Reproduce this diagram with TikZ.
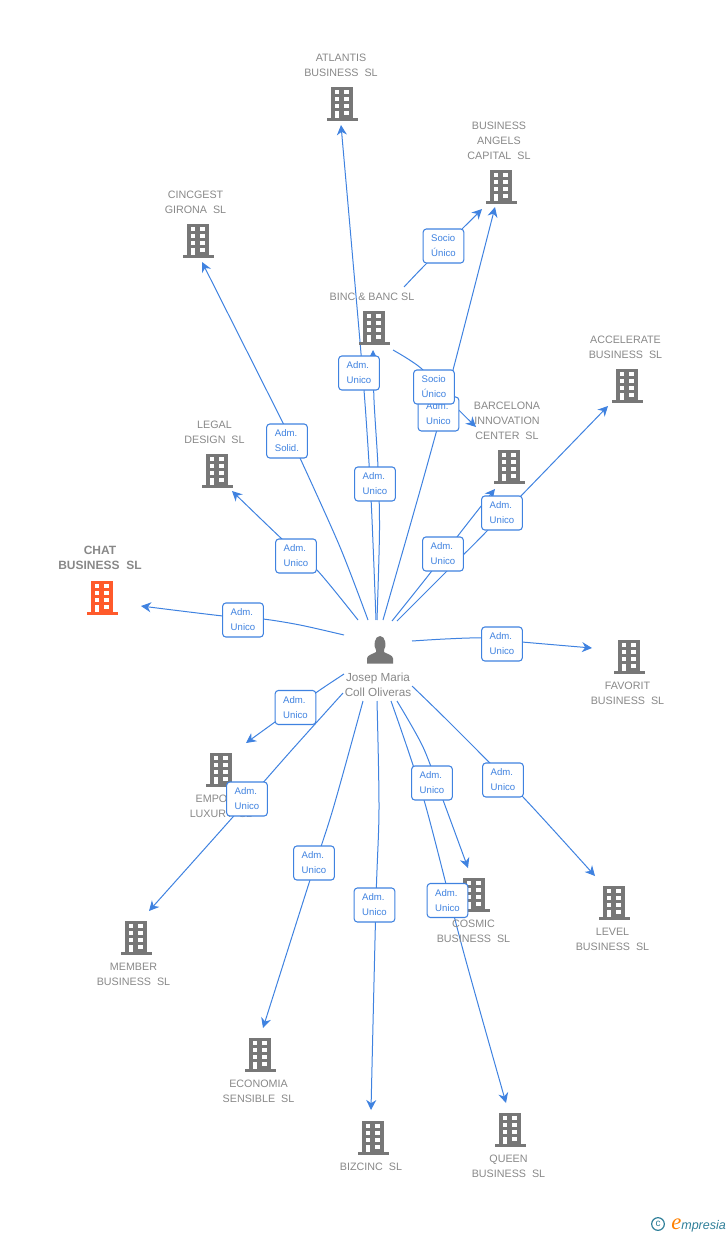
\documentclass[tikz,border=0pt]{standalone}
\usepackage{fontspec}
\setmainfont{Liberation Sans}
\newfontfamily\logofont{Liberation Serif}
\usetikzlibrary{arrows.meta,backgrounds}
\definecolor{bgrey}{HTML}{777777}
\definecolor{tgrey}{HTML}{888888}
\definecolor{eblue}{HTML}{3F82E0}
\definecolor{borange}{HTML}{FF5A2B}
\definecolor{lteal}{HTML}{2F7F99}
\tikzset{
  lab/.style={font=\fontsize{8.05pt}{11.25pt}\selectfont,text=tgrey,align=center,inner sep=0pt,yshift=-0.75pt},
  chatlab/.style={lab,font=\fontsize{9pt}{11.25pt}\selectfont\bfseries,yshift=0pt},
  rel/.style={draw=eblue,line width=0.8pt,rounded corners=2.4pt,fill=white,text=eblue,
    font=\fontsize{7.2pt}{11.25pt}\selectfont,align=left,minimum width=30.5pt,minimum height=25.5pt,inner sep=0pt},
  edge/.style={draw=eblue,line width=0.75pt,-{Stealth[length=7.5pt,width=7.5pt,inset=2.4pt]}},
  pics/bld/.style={code={
    \fill[#1] (-11,-16.5) rectangle (11,15.5);
    \fill[#1] (-15.5,15) rectangle (15.5,17.5);
    \foreach \yy in {-13,-6,1}{
      \fill[white] (-7.5,\yy) rectangle (-3,\yy+4.4);
      \fill[white] (2.3,\yy) rectangle (6.8,\yy+4.4);
    }
    \fill[white] (-7.5,8) rectangle (-3,15.3);
    \fill[white] (2.3,8) rectangle (6.8,12);
  }}
}
\newcommand{\bldat}[4]{\pic at (#2,#3) {bld=#4}; \coordinate (#1) at (#2,#3);}
\newcommand{\conn}[2]{\draw[edge] plot[smooth,tension=0.5] coordinates {#1 #2};}
\begin{document}
\begin{tikzpicture}[x=0.75pt,y=-0.75pt]
\useasboundingbox (0,0) rectangle (728,1235);
% buildings
\bldat{bAtl}{342}{103}{bgrey}
\bldat{bAng}{501}{186}{bgrey}
\bldat{bCin}{198}{240}{bgrey}
\bldat{bBin}{374}{327}{bgrey}
\bldat{bAcc}{627}{385}{bgrey}
\bldat{bBar}{509}{466}{bgrey}
\bldat{bLeg}{217}{470}{bgrey}
\bldat{bCha}{102}{597}{borange}
\bldat{bFav}{629}{656}{bgrey}
\bldat{bEmp}{221}{769}{bgrey}
\bldat{bCos}{474}{894}{bgrey}
\bldat{bLev}{614}{902}{bgrey}
\bldat{bMem}{136}{937}{bgrey}
\bldat{bEco}{260}{1054}{bgrey}
\bldat{bBiz}{373}{1137}{bgrey}
\bldat{bQue}{510}{1129}{bgrey}
% building labels
\node[lab] (tAtl) at (341,64.5) {ATLANTIS\\BUSINESS\ \ SL};
\node[lab] (tAng) at (499,140) {BUSINESS\\ANGELS\\CAPITAL\ \ SL};
\node[lab] (tCin) at (195.5,201.5) {CINCGEST\\GIRONA\ \ SL};
\node[lab] (tBin) at (372,296) {BINC \& BANC SL};
\node[lab] (tAcc) at (625.5,346.5) {ACCELERATE\\BUSINESS\ \ SL};
\node[lab] (tBar) at (507,420) {BARCELONA\\INNOVATION\\CENTER\ \ SL};
\node[lab] (tLeg) at (214.5,431.5) {LEGAL\\DESIGN\ \ SL};
\node[chatlab] (tCha) at (100,557) {CHAT\\BUSINESS\ \ SL};
\node[lab] (tFav) at (627.5,692.5) {FAVORIT\\BUSINESS\ \ SL};
\node[lab] (tEmp) at (221,805.5) {EMPORIO\\LUXURY\ \ SL};
\node[lab] (tCos) at (473.5,930.5) {COSMIC\\BUSINESS\ \ SL};
\node[lab] (tLev) at (612.5,938.5) {LEVEL\\BUSINESS\ \ SL};
\node[lab] (tMem) at (133.5,973.5) {MEMBER\\BUSINESS\ \ SL};
\node[lab] (tEco) at (258.5,1090.5) {ECONOMIA\\SENSIBLE\ \ SL};
\node[lab] (tBiz) at (371,1166) {BIZCINC\ \ SL};
\node[lab] (tQue) at (508.5,1165.5) {QUEEN\\BUSINESS\ \ SL};
% person
\node[lab,font=\fontsize{8.8pt}{11.25pt}\selectfont] (person) at (378,684) {Josep Maria\\Coll Oliveras};
\fill[bgrey] (367,663.5) -- (367,658.5) .. controls (367,655) and (373,654) .. (376,652)
  -- (376,650) .. controls (373,646) and (374.5,636) .. (380,636) .. controls (385.5,636) and (387,646) .. (384,650)
  -- (384,652) .. controls (387,654) and (393,655) .. (393,658.5) -- (393,663.5) -- cycle;
% relation boxes
\newcommand{\admU}{\vspace{1.5pt}Adm.\\Unico}
\node[rel] (rCha) at (243,620) {\admU};
\node[rel] (rLeg) at (296,556) {\admU};
\node[rel] (rCin) at (287,441) {\vspace{1.5pt}Adm.\\Solid.};
\node[rel] (rAtl) at (359,373) {\admU};
\node[rel] (rBin) at (375,484) {\admU};
\node[rel] (rAng) at (438.5,414) {\admU};
\node[rel] (rBar) at (443,554) {\admU};
\node[rel] (rAcc) at (502,513) {\admU};
\node[rel] (rFav) at (502,644) {\admU};
\node[rel] (rLev) at (503,780) {\admU};
\node[rel] (rCos) at (432,783) {\admU};
\node[rel] (rQue) at (447.5,900.5) {\admU};
\node[rel] (rBiz) at (374.5,905) {\admU};
\node[rel] (rEco) at (314,863) {\admU};
\node[rel] (rMem) at (247,799) {\admU};
\node[rel] (rEmp) at (295.5,707.5) {\admU};
\node[rel] (rSoc) at (434,387) {\vspace{1.5pt}Socio\\Único};
\node[rel] (rSoA) at (443.5,246) {\vspace{1.5pt}Socio\\Único};
% connector end points
\coordinate (sCha) at (344,635);  \coordinate (eCha) at (141,606);
\coordinate (sLeg) at (358,620);  \coordinate (eLeg) at (232,491);
\coordinate (sCin) at (368,620);  \coordinate (eCin) at (202,262);
\coordinate (sAtl) at (376,620);  \coordinate (eAtl) at (341,125);
\coordinate (sBin) at (377,620);  \coordinate (eBin) at (373,350);
\coordinate (sAng) at (383,620);  \coordinate (eAng) at (495,207);
\coordinate (sBar) at (392,621);  \coordinate (eBar) at (495,489);
\coordinate (sAcc) at (397,621);  \coordinate (eAcc) at (608,406);
\coordinate (sFav) at (412,641);  \coordinate (eFav) at (592,648);
\coordinate (sLev) at (412,686);  \coordinate (eLev) at (595,876);
\coordinate (sCos) at (397,701);  \coordinate (eCos) at (468,868);
\coordinate (sQue) at (391,701);  \coordinate (eQue) at (506,1103);
\coordinate (sBiz) at (377,701);  \coordinate (eBiz) at (371,1110);
\coordinate (sEco) at (363,701);  \coordinate (eEco) at (263,1028);
\coordinate (sMem) at (343,693);  \coordinate (eMem) at (149,911);
\coordinate (sEmp) at (344,674);  \coordinate (eEmp) at (246,743);
\coordinate (sSoc) at (393,350);  \coordinate (eSoc) at (476,427);
\coordinate (sSoA) at (404,287);  \coordinate (eSoA) at (482,209);
\begin{pgfonlayer}{background}
\conn{(sCha) (300,625) (263,619) (223,616)}{(eCha)}
\conn{(sLeg) (317,570) (283,540)}{(eLeg)}
\conn{(sCin) (340,547) (300,458) (283,423)}{(eCin)}
\conn{(sAtl) (371,498) (364,390) (352,250)}{(eAtl)}
\conn{(sBin) (379.5,530) (378,467) (374,400)}{(eBin)}
\conn{(sAng) (423,480) (453,370)}{(eAng)}
\conn{(sBar) (431,572) (457,537) (482,505)}{(eBar)}
\conn{(sAcc) (455,563) (486,532)}{(eAcc)}
\conn{(sFav) (445,639) (482,638) (522,642)}{(eFav)}
\conn{(sLev) (450,723) (523,797)}{(eLev)}
\conn{(sCos) (423,747) (443,800)}{(eCos)}
\conn{(sQue) (424,800) (463,950)}{(eQue)}
\conn{(sBiz) (379,809) (376,900)}{(eBiz)}
\conn{(sEco) (333,809)  (310,880)}{(eEco)}
\conn{(sMem) (290,752) (232,818)}{(eMem)}
\conn{(sEmp) (317,692) (275,722)}{(eEmp)}
\conn{(sSoc) (422,369) (453,404)}{(eSoc)}
\conn{(sSoA) (425,265) (463,228)}{(eSoA)}
\end{pgfonlayer}
% logo
\node[circle,draw=lteal,line width=0.9pt,minimum size=9.5pt,inner sep=0pt,text=lteal,
  font=\fontsize{7.5pt}{7.5pt}\selectfont] (lc) at (658,1224) {c};
\node[inner sep=0pt,anchor=base west] (lg) at (671,1229)
  {{\logofont\itshape\fontsize{17pt}{17pt}\selectfont\color{orange}e}{\itshape\fontsize{9.4pt}{10pt}\selectfont\color{lteal}mpresia}};
\end{tikzpicture}
\end{document}
